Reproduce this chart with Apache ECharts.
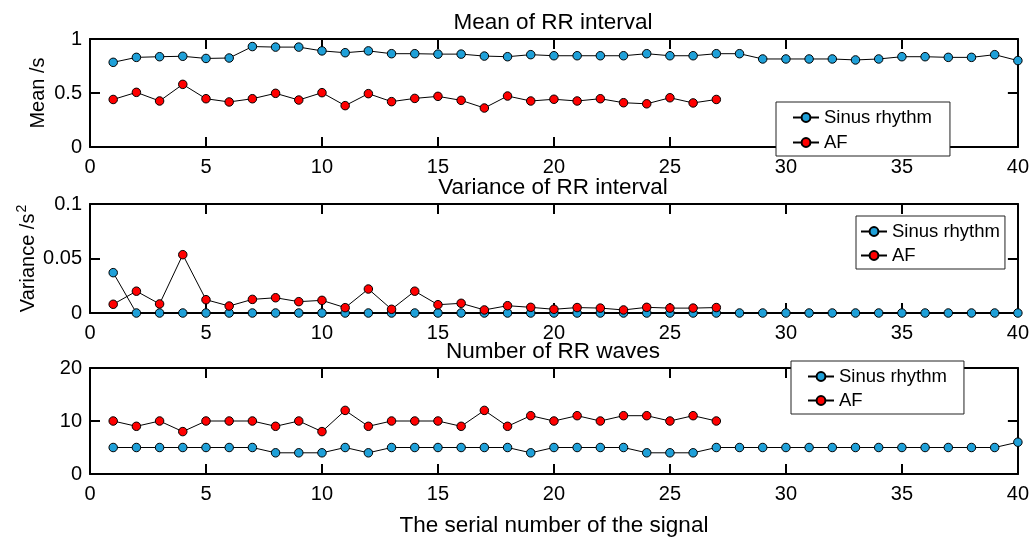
<!DOCTYPE html>
<html><head><meta charset="utf-8">
<script src="https://cdn.jsdelivr.net/npm/echarts@6/dist/echarts.min.js"></script>
<style>html,body{margin:0;padding:0;background:#fff}#c{width:1032px;height:538px}</style>
</head><body><div id="c"></div>
<script>
const meanSinus = [0.784,0.83,0.836,0.84,0.82,0.824,0.93,0.925,0.925,0.89,0.873,0.89,0.864,0.864,0.86,0.86,0.842,0.836,0.855,0.845,0.845,0.845,0.845,0.864,0.845,0.845,0.864,0.864,0.815,0.815,0.815,0.815,0.806,0.815,0.836,0.836,0.83,0.83,0.855,0.80];
const meanAF = [0.44,0.506,0.426,0.58,0.447,0.417,0.447,0.497,0.435,0.503,0.383,0.494,0.42,0.45,0.469,0.432,0.361,0.472,0.426,0.442,0.426,0.447,0.41,0.40,0.456,0.408,0.44];
const varSinus = [0.037,0,0,0,0,0,0,0,0,0,0,0,0,0,0,0,0,0,0,0,0,0,0,0,0,0,0,0,0,0,0,0,0,0,0,0,0,0,0,0];
const varAF = [0.008,0.020,0.0083,0.0535,0.0122,0.0064,0.0125,0.014,0.0104,0.0116,0.0049,0.022,0.0034,0.020,0.0076,0.0089,0.0028,0.0067,0.0052,0.0034,0.005,0.0045,0.0028,0.0052,0.0045,0.0045,0.005];
const numSinus = [5,5,5,5,5,5,5,4,4,4,5,4,5,5,5,5,5,5,4,5,5,5,5,4,4,4,5,5,5,5,5,5,5,5,5,5,5,5,5,6];
const numAF = [10,9,10,8,10,10,10,9,10,8,12,9,10,10,10,9,12,9,11,10,11,10,11,11,10,11,10];
const titles = ['Mean of RR interval','Variance of RR interval','Number of RR waves'];
const yNames = ['Mean /s','Variance /s{sup|2}',''];
const yMax = [1,0.1,20];
const yInterval = [0.5,0.05,10];
const xTitle = 'The serial number of the signal';
const seriesNames = ['Sinus rhythm','AF'];

const blue = '#1fa0d8', red = '#ff0000';
const FONT = 'Liberation Sans, Arial, sans-serif';
const gridTops = [39,204,368];
const gridH = [108,109,109];
const legendPos = [
  {left:776, top:102, padding:[6,18,4,16], itemGap:6},
  {left:856, top:216, padding:[6,5,4,4], itemGap:5},
  {left:791, top:361, padding:[6,17,4,16], itemGap:5}
];

const toPts = a => a.map((v,i)=>[i+1,v]);
const dataSets = [[meanSinus,meanAF],[varSinus,varAF],[numSinus,numAF]];

const grid=[], xAxis=[], yAxis=[], series=[], legend=[], title=[];
const axisLine = {show:true, onZero:false, lineStyle:{color:'#000', width:2}};
const tick = {show:true, inside:true, length:10, lineStyle:{color:'#000', width:2}};
for(let p=0;p<3;p++){
  grid.push({left:90, right:12, top:gridTops[p], height:gridH[p]});
  title.push({text:titles[p], left:553, textAlign:'center', top:gridTops[p]-28, padding:0,
    textStyle:{fontFamily:FONT, fontSize:22.5, fontWeight:'normal', color:'#000', lineHeight:23}});
  xAxis.push({type:'value', gridIndex:p, min:0, max:40, interval:5, position:'bottom',
    axisLine, axisTick:tick,
    axisLabel:{fontFamily:FONT, fontSize:20, color:'#000', margin:10},
    splitLine:{show:false},
    name: p===2 ? xTitle : '', nameLocation:'middle', nameGap:40, nameMoveOverlap:false,
    nameTextStyle:{fontFamily:FONT, fontSize:22.5, color:'#000'}});
  xAxis.push({type:'value', gridIndex:p, min:0, max:40, interval:5, position:'top',
    axisLine, axisTick:tick, axisLabel:{show:false}, splitLine:{show:false}});
  yAxis.push({type:'value', gridIndex:p, min:0, max:yMax[p], interval:yInterval[p], position:'left',
    axisLine, axisTick:tick,
    axisLabel:{fontFamily:FONT, fontSize:20, color:'#000', margin:8},
    splitLine:{show:false},
    name:yNames[p], nameLocation:'middle', nameGap: p===1?49:42, nameMoveOverlap:false,
    nameTextStyle:{fontFamily:FONT, fontSize:20, color:'#000', rich:{sup:{fontFamily:FONT, fontSize:14, color:'#000', verticalAlign:'top', padding:[0,0,12,1]}}}});
  yAxis.push({type:'value', gridIndex:p, min:0, max:yMax[p], interval:yInterval[p], position:'right',
    axisLine, axisTick:tick, axisLabel:{show:false}, splitLine:{show:false}});
  [blue, red].forEach((c,k)=>{
    series.push({type:'line', name:seriesNames[k], xAxisIndex:2*p, yAxisIndex:2*p,
      data: toPts(dataSets[p][k]), symbol:'circle', symbolSize:8.5, showSymbol:true,
      lineStyle:{color:'#000', width:1}, itemStyle:{color:c, borderColor:'#000', borderWidth:1},
      emphasis:{disabled:true}, animation:false, z: 2+k});
  });
  legend.push({data:seriesNames, orient:'vertical', left:legendPos[p].left, top:legendPos[p].top,
    backgroundColor:'#fff', borderColor:'#222', borderWidth:1, padding:legendPos[p].padding, itemGap:legendPos[p].itemGap,
    itemWidth:26, itemHeight:11, selectedMode:false,
    textStyle:{fontFamily:FONT, fontSize:18.5, color:'#000'}});
}
const chart = echarts.init(document.getElementById('c'), null, {renderer:'canvas'});
chart.setOption({animation:false, backgroundColor:'#fff', grid, xAxis, yAxis, series, legend, title});
</script></body></html>
